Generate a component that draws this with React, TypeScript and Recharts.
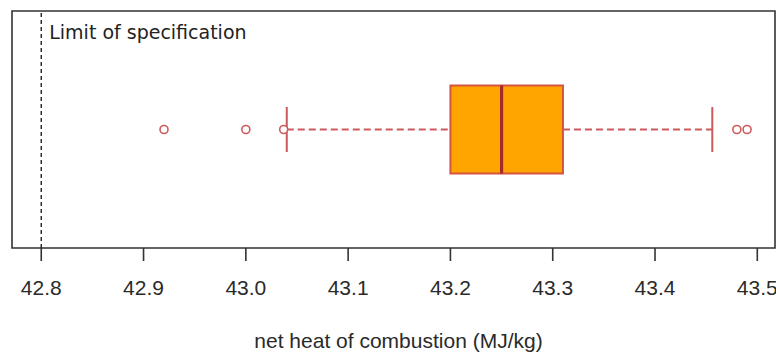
import {
  ScatterChart, Scatter, XAxis, YAxis, ReferenceArea, ReferenceLine,
} from 'recharts'

// five-number summary: lower whisker, Q1, median, Q3, upper whisker (MJ/kg)
const whiskerLow = 43.04
const quartiles = [43.2, 43.25, 43.31]
const whiskerHigh = 43.456

// points beyond the whiskers
const outlierValues = [42.92, 43.0, 43.037, 43.48, 43.49]

const specLimit = 42.8
const xTicks = [42.8, 42.9, 43.0, 43.1, 43.2, 43.3, 43.4, 43.5]
const xDomain = [42.7714, 43.5173]

const RED = '#CD5A5C'
const AXIS = '#333333'
const FONT = '"Liberation Sans", Arial, sans-serif'

// vertical placement of the single box (y runs 0..1 across the plot)
const MID = 0.5
const BOX_HALF = 0.186
const CAP_HALF = 0.095

const outliers = outlierValues.map((x) => ({ x, y: MID }))

const OutlierDot = (props: any) => (
  <circle cx={props.cx} cy={props.cy} r={4} fill="#fff" stroke={RED} strokeWidth={1.6} />
)

export default function App() {
  const [q1, med, q3] = quartiles
  return (
    <div style={{ position: 'absolute', left: 0, top: 0, background: '#fff' }}>
      <ScatterChart
        width={776}
        height={354}
        margin={{ top: 11, right: 1, bottom: 0, left: 12 }}
      >
        <XAxis
          type="number"
          dataKey="x"
          domain={xDomain}
          allowDataOverflow
          ticks={xTicks}
          tickFormatter={(v: number) => v.toFixed(1)}
          axisLine={false}
          tickSize={13}
          tickMargin={19}
          tickLine={{ stroke: AXIS, strokeWidth: 1.6 }}
          tick={{ fontSize: 21, fill: '#2a2a2a', fontFamily: FONT }}
          height={106}
          label={{
            value: 'net heat of combustion (MJ/kg)',
            position: 'insideBottom',
            offset: 6,
            dx: 5,
            fontSize: 21,
            fill: '#2a2a2a',
            fontFamily: FONT,
          }}
        />
        <YAxis type="number" dataKey="y" domain={[0, 1]} hide />

        {/* plot frame */}
        <ReferenceArea
          x1={xDomain[0]}
          x2={xDomain[1]}
          y1={0}
          y2={1}
          fill="none"
          stroke={AXIS}
          strokeWidth={1.6}
          fillOpacity={0}
        />

        <ReferenceLine
          x={specLimit}
          stroke="#222"
          strokeWidth={1.4}
          strokeDasharray="4 3"
          label={({ viewBox }: any) => (
            <text
              x={viewBox.x + 8}
              y={viewBox.y + 28}
              fontSize={19}
              fill="#222"
              fontFamily='"DejaVu Sans", Verdana, sans-serif'
            >
              Limit of specification
            </text>
          )}
        />

        {/* whiskers */}
        <ReferenceLine
          segment={[{ x: whiskerLow, y: MID }, { x: q1, y: MID }]}
          stroke={RED}
          strokeWidth={2}
          strokeDasharray="7 4"
        />
        <ReferenceLine
          segment={[{ x: q3, y: MID }, { x: whiskerHigh, y: MID }]}
          stroke={RED}
          strokeWidth={2}
          strokeDasharray="7 4"
        />
        <ReferenceLine
          segment={[{ x: whiskerLow, y: MID - CAP_HALF }, { x: whiskerLow, y: MID + CAP_HALF }]}
          stroke={RED}
          strokeWidth={2}
        />
        <ReferenceLine
          segment={[{ x: whiskerHigh, y: MID - CAP_HALF }, { x: whiskerHigh, y: MID + CAP_HALF }]}
          stroke={RED}
          strokeWidth={2}
        />

        {/* interquartile box and median */}
        <ReferenceArea
          x1={q1}
          x2={q3}
          y1={MID - BOX_HALF}
          y2={MID + BOX_HALF}
          fill="#FFA500"
          fillOpacity={1}
          stroke="#D4553F"
          strokeWidth={2}
        />
        <ReferenceLine
          segment={[{ x: med, y: MID - BOX_HALF }, { x: med, y: MID + BOX_HALF }]}
          stroke="#A52A2A"
          strokeWidth={3.2}
        />

        <Scatter data={outliers} shape={OutlierDot} isAnimationActive={false} />
      </ScatterChart>
    </div>
  )
}
